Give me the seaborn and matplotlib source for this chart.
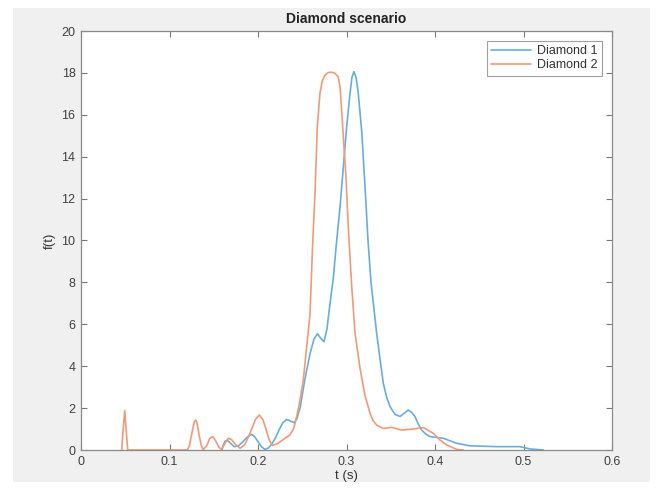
import numpy as np
import pandas as pd
import matplotlib
matplotlib.use("Agg")
import matplotlib.pyplot as plt
import seaborn as sns
from matplotlib.patches import Rectangle

# values
t_diamond1 = [0.159, 0.1605, 0.1627, 0.1655, 0.1684, 0.1729, 0.178, 0.183, 0.188, 0.1929,
              0.1965, 0.200, 0.204, 0.2079, 0.212, 0.2158, 0.220, 0.2237, 0.228, 0.2324,
              0.237, 0.241, 0.244, 0.2475, 0.2531, 0.2588, 0.2633, 0.2672, 0.2706, 0.2746,
              0.278, 0.2814, 0.2851, 0.2889, 0.2927, 0.2964, 0.3002, 0.3040, 0.3062, 0.3085,
              0.311, 0.3133, 0.3172, 0.3209, 0.3243, 0.3277, 0.3341, 0.338, 0.3416, 0.3455,
              0.3492, 0.3548, 0.3605, 0.365, 0.3698, 0.3735, 0.3774, 0.381, 0.385, 0.390,
              0.3944, 0.4094, 0.4245, 0.4395, 0.4697, 0.496, 0.5073, 0.5224]
f_diamond1 = [0.0, 0.2, 0.42, 0.45, 0.35, 0.16, 0.2, 0.4, 0.62, 0.75,
              0.62, 0.4, 0.15, 0.03, 0.1, 0.3, 0.6, 0.95, 1.3, 1.46,
              1.38, 1.3, 1.5, 2.0, 3.4, 4.6, 5.3, 5.55, 5.35, 5.17,
              5.8, 7.0, 8.2, 10.0, 11.6, 13.5, 15.43, 17.03, 17.8, 18.06,
              17.75, 17.03, 15.2, 12.6, 10.0, 8.0, 5.57, 4.3, 3.18, 2.5,
              2.07, 1.70, 1.6, 1.75, 1.91, 1.8, 1.59, 1.25, 0.95, 0.75,
              0.64, 0.56, 0.32, 0.2, 0.16, 0.16, 0.05, 0.0]

t_diamond2 = [0.046, 0.0475, 0.0494, 0.0511, 0.0528, 0.120, 0.1225, 0.1255, 0.128, 0.1296,
              0.131, 0.1335, 0.136, 0.138, 0.142, 0.1455, 0.1488, 0.152, 0.156, 0.159,
              0.1625, 0.1665, 0.170, 0.175, 0.1797, 0.185, 0.191, 0.197, 0.2015, 0.2055,
              0.209, 0.2125, 0.216, 0.222, 0.2305, 0.236, 0.240, 0.2437, 0.2475, 0.2512,
              0.255, 0.2588, 0.2618, 0.2644, 0.267, 0.270, 0.2725, 0.2757, 0.2795, 0.2833,
              0.287, 0.2907, 0.2927, 0.2957, 0.2994, 0.302, 0.3059, 0.3096, 0.3153, 0.3209,
              0.3266, 0.330, 0.3341, 0.3416, 0.351, 0.3624, 0.3755, 0.3868, 0.398, 0.4056,
              0.4132, 0.4245, 0.432]
f_diamond2 = [0.0, 0.9, 1.88, 0.9, 0.0, 0.0, 0.2, 0.85, 1.35, 1.43,
              1.3, 0.7, 0.2, 0.02, 0.2, 0.55, 0.64, 0.45, 0.12, 0.03,
              0.3, 0.56, 0.5, 0.25, 0.08, 0.25, 0.8, 1.45, 1.67, 1.45,
              1.0, 0.5, 0.22, 0.3, 0.56, 0.72, 1.0, 1.59, 2.39, 3.34,
              4.93, 6.5, 9.87, 12.25, 15.43, 17.03, 17.6, 17.9, 18.02, 18.03,
              17.98, 17.8, 17.34, 15.43, 13.05, 10.66, 7.8, 5.6, 3.9, 2.6,
              1.75, 1.4, 1.19, 1.03, 1.08, 0.95, 1.0, 1.07, 0.8, 0.48,
              0.24, 0.03, 0.0]

series_names = ["Diamond 1", "Diamond 2"]
colors = ["#68ade2", "#f29a78"]

df = pd.concat([
    pd.DataFrame({"t": t_diamond1, "f": f_diamond1, "series": series_names[0]}),
    pd.DataFrame({"t": t_diamond2, "f": f_diamond2, "series": series_names[1]}),
], ignore_index=True)

sns.set_style("white")
plt.rcParams["font.family"] = ["Liberation Sans", "DejaVu Sans"]

fig = plt.figure(figsize=(6.63, 4.9), dpi=100)
fig.patch.set_facecolor("white")
# grey MATLAB-like figure panel
fig.patches.append(Rectangle((13 / 663, 8 / 490), (650 - 13) / 663, (482 - 8) / 490,
                             transform=fig.transFigure, facecolor="#f0f0f0",
                             edgecolor="none", zorder=-10))
ax = fig.add_axes([81 / 663, 40 / 490, 531 / 663, 419 / 490])
ax.set_facecolor("white")

sns.lineplot(data=df, x="t", y="f", hue="series", palette=colors, sort=False,
             estimator=None, linewidth=1.2, ax=ax)

ax.set_xlim(0, 0.6)
ax.set_ylim(0, 20)
ax.set_xticks(np.arange(0, 0.61, 0.1))
ax.set_xticklabels(["0", "0.1", "0.2", "0.3", "0.4", "0.5", "0.6"])
ax.set_yticks(np.arange(0, 21, 2))
ax.tick_params(direction="in", length=4, width=0.8, color="#7a7a7a",
               labelcolor="#404040", labelsize=9, top=True, right=True,
               bottom=True, left=True, pad=4)
for sp in ax.spines.values():
    sp.set_color("#8a8a8a")
    sp.set_linewidth(0.9)

ax.set_xlabel("t (s)", fontsize=9.5, color="#333333", labelpad=2)
ax.set_ylabel("f(t)", fontsize=9.5, color="#333333", labelpad=4)
ax.set_title("Diamond scenario", fontsize=10, fontweight="bold", color="#222222", pad=6)

leg = ax.legend(loc="upper right", fontsize=9, frameon=True, fancybox=False,
                handlelength=3.2, borderpad=0.35, labelspacing=0.15,
                borderaxespad=0.8, handletextpad=0.5)
leg.get_frame().set_edgecolor("#8a8a8a")
leg.get_frame().set_linewidth(0.8)
for txt in leg.get_texts():
    txt.set_color("#333333")

fig.savefig("out.png", dpi=100)
